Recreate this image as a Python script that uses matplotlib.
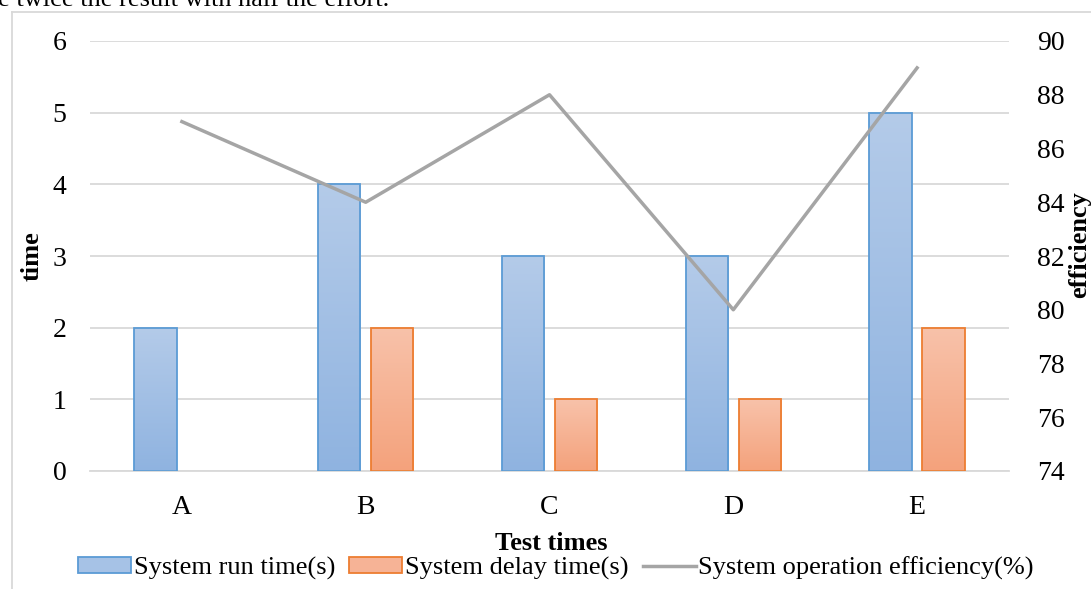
import numpy as np
import matplotlib
matplotlib.use("Agg")
import matplotlib.pyplot as plt
from matplotlib.patches import Rectangle
from matplotlib.lines import Line2D
from matplotlib.colors import LinearSegmentedColormap

# ---- Daten ----
categories = ["A", "B", "C", "D", "E"]
run_time = [2, 4, 3, 3, 5]
delay_time = [0, 2, 1, 1, 2]
efficiency = [87, 84, 88, 80, 89]

plt.rcParams["font.family"] = ["Liberation Serif", "DejaVu Serif"]

fig = plt.figure(figsize=(10.91, 5.89), dpi=100)
ax = fig.add_axes([90 / 1091, 1 - 471 / 589, 919 / 1091, 430 / 589])
ax2 = ax.twinx()

x = np.arange(len(categories))
w = 0.23
off = 0.144

blue_cm = LinearSegmentedColormap.from_list("b", ["#8fb3e0", "#b4cbe9"])
orng_cm = LinearSegmentedColormap.from_list("o", ["#f4a27c", "#f8c2aa"])
grad = np.linspace(0, 1, 256).reshape(-1, 1)


def gradient_bars(ax, xs, vals, cmap, edge):
    for xi, v in zip(xs, vals):
        if v <= 0:
            continue
        rect = Rectangle((xi - w / 2, 0), w, v, facecolor="none",
                         edgecolor=edge, linewidth=1.3, zorder=3)
        ax.add_patch(rect)
        im = ax.imshow(grad, cmap=cmap, origin="lower", aspect="auto",
                       extent=(xi - w / 2, xi + w / 2, 0, v), zorder=2)
        im.set_clip_path(rect)


gradient_bars(ax, x - off, run_time, blue_cm, "#5b9bd5")
gradient_bars(ax, x + off, delay_time, orng_cm, "#ed7d31")

ax.set_xlim(-0.5, len(categories) - 0.5)
ax.set_ylim(0, 6)
ax.set_yticks(range(0, 7))
ax.set_xticks(x)
ax.set_xticklabels(categories)
ax.grid(axis="y", color="#d9d9d9", linewidth=1.3)
ax.set_axisbelow(True)
for s in ["top", "right", "left"]:
    ax.spines[s].set_visible(False)
ax.spines["bottom"].set_color("#d9d9d9")
ax.spines["bottom"].set_linewidth(1.3)
ax.tick_params(length=0, labelsize=20)
ax.tick_params(axis="x", pad=17)
ax.tick_params(axis="y", pad=17)

ax2.plot(x, efficiency, color="#a5a5a5", linewidth=2.5, zorder=4)
ax2.set_ylim(74, 90)
ax2.set_yticks(range(74, 91, 2))
for s in ax2.spines.values():
    s.set_visible(False)
ax2.tick_params(length=0, labelsize=20, pad=20)

ax.set_ylabel("time", fontsize=19, fontweight="bold")
ax.yaxis.set_label_coords(-0.051, 0.5)
fig.text(1080 / 1091, 1 - 245 / 589, "efficiency", rotation=90, fontsize=19,
         fontweight="bold", ha="center", va="center")
fig.text(551 / 1091, 1 - 543 / 589, "Test times", fontsize=19,
         fontweight="bold", ha="center", va="center")

handles = [
    Rectangle((0, 0), 1, 1, facecolor="#a6c2e6", edgecolor="#5b9bd5", linewidth=1.3),
    Rectangle((0, 0), 1, 1, facecolor="#f6b396", edgecolor="#ed7d31", linewidth=1.3),
    Line2D([0], [0], color="#a5a5a5", linewidth=2.5),
]
fig.legend(handles, ["System run time(s)", "System delay time(s)",
                     "System operation efficiency(%)"],
           loc="center", bbox_to_anchor=(556 / 1091, 1 - 568 / 589), ncol=3,
           frameon=False, fontsize=19, handlelength=2.0, handleheight=0.58,
           handletextpad=0.1, columnspacing=0.55)

# Rahmen und abgeschnittener Text oben
fig.add_artist(Line2D([12 / 1091, 12 / 1091], [0, 1 - 12 / 589],
                      transform=fig.transFigure, color="#d9d9d9", linewidth=1.3))
fig.add_artist(Line2D([12 / 1091, 1], [1 - 12 / 589, 1 - 12 / 589],
                      transform=fig.transFigure, color="#d9d9d9", linewidth=1.3))
fig.text(-2 / 1091, 1 - 0 / 589, "e twice the result with half the effort.",
         fontsize=19, ha="left", va="center")

fig.savefig("out.png", dpi=100)
